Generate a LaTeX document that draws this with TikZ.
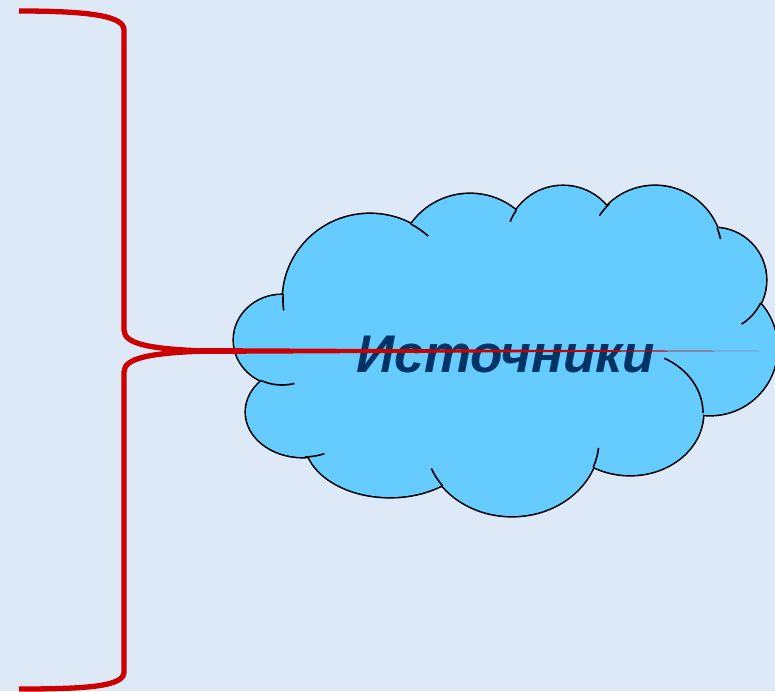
\documentclass[tikz,border=0pt]{standalone}
\usepackage{fontspec}
\setmainfont{Liberation Sans}
\definecolor{bgblue}{RGB}{221,233,246}
\definecolor{cloudblue}{RGB}{102,204,255}
\definecolor{textnavy}{RGB}{0,51,102}
\definecolor{bracered}{RGB}{204,0,0}
\newcommand\cloudtail[6]{\draw[cloudline] ({#1+#3*cos(#5)},{#2+#4*sin(#5)}) arc[start angle=#5,end angle=#6,x radius=#3,y radius=#4];}
\begin{document}
\begin{tikzpicture}[x=1pt,y=-1pt,
  lobeedge/.style={draw=black,line width=3.2pt},
  lobefill/.style={fill=cloudblue},
  cloudline/.style={draw=black,line width=1.6pt},
  bracestroke/.style={draw=bracered,line width=5.3pt},
  titletext/.style={text=textnavy,font=\fontsize{53}{58}\selectfont\bfseries\itshape,inner sep=0pt,anchor=base}]
\useasboundingbox (0,0) rectangle (775,691);
\fill[bgblue] (0,0) rectangle (775,691);
% brace
\coordinate (tip) at (205,351);
\draw[bracestroke] (19,11) .. controls (90,11) and (124,16) .. (124,30) -- (124,330) .. controls (124,344) and (150,349) .. (tip);
\draw[bracestroke] (tip) .. controls (150,353) and (124,358) .. (124,372) -- (124,672) .. controls (124,686) and (90,689) .. (19,689);
% cloud outline (union of lobes)
\foreach \cx/\cy/\rx/\ry in {282/340/48/45,303/412/57/45,370/300/87/86,470/266/72/72,563/243/57/57,655/253/67/67,714/280/52/52,710/348/67/67,630/413/73/62,512/440/87/76,390/440/85/57}
  \path[lobeedge] (\cx,\cy) ellipse[x radius=\rx,y radius=\ry];
\foreach \cx/\cy/\rx/\ry in {282/340/48/45,303/412/57/45,370/300/87/86,470/266/72/72,563/243/57/57,655/253/67/67,714/280/52/52,710/348/67/67,630/413/73/62,512/440/87/76,390/440/85/57}
  \path[lobefill] (\cx,\cy) ellipse[x radius=\rx,y radius=\ry];
\fill[cloudblue] (292.1,297) -- (415.9,227.9) -- (516.7,216.4) -- (604.1,208.7) -- (708.7,232.7) -- (750,304.7) -- (697.2,412.2) -- (589.7,462.1) -- (444.7,479.4) -- (314.2,450.6) -- (271.9,377.6) -- cycle;
% inner strokes of the cloud
\cloudtail{282}{340}{48}{45}{116}{75}
\cloudtail{370}{300}{87}{86}{184}{173}
\cloudtail{370}{300}{87}{86}{-62}{-48}
\cloudtail{563}{243}{57}{57}{215}{202}
\cloudtail{655}{253}{67}{67}{227}{214}
\cloudtail{655}{253}{67}{67}{-22}{-12}
\cloudtail{714}{280}{52}{52}{26}{58}
\cloudtail{630}{413}{73}{62}{0}{-62}
\cloudtail{512}{440}{87}{76}{21}{6}
\cloudtail{512}{440}{87}{76}{143}{158}
\cloudtail{303}{412}{57}{45}{88}{68}
% title
\node[titletext] (title) at (506,372) {Источники};
% red tapered line
\coordinate (lineend) at (760,351);
\fill[bracered] (190,348) -- (235,348.2) -- (lineend) -- (235,353.8) -- (190,354) -- cycle;
\end{tikzpicture}
\end{document}
